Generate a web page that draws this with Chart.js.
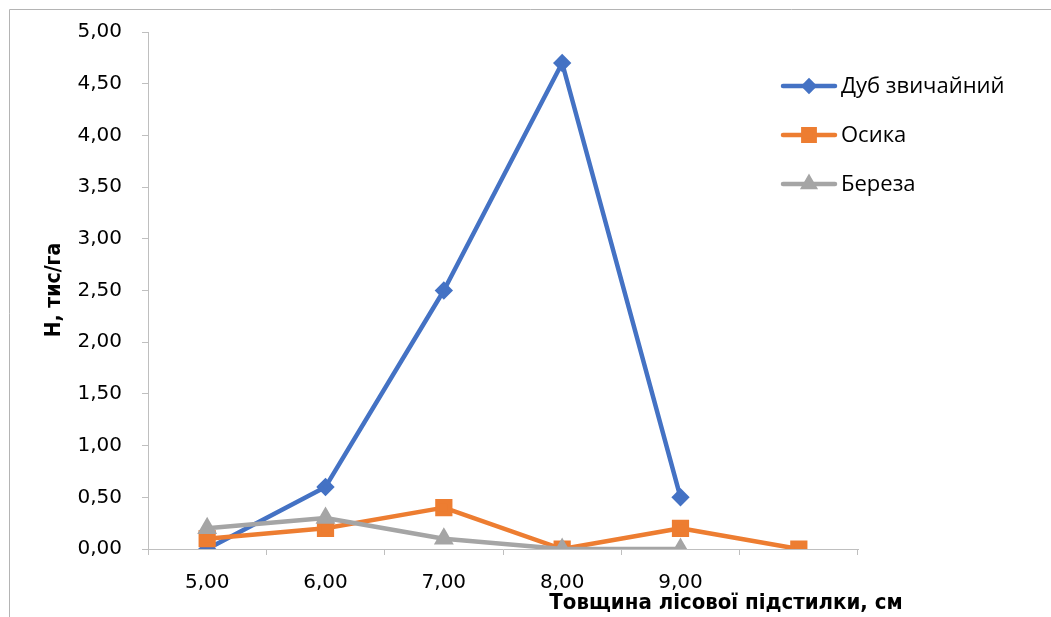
<!DOCTYPE html>
<html>
<head>
<meta charset="utf-8">
<script src="https://cdn.jsdelivr.net/npm/chart.js@4"></script>
<style>
  html, body { margin: 0; padding: 0; background: #fff; overflow: hidden; }
  #wrap { position: relative; width: 1051px; height: 617px; }
</style>
</head>
<body>
<div id="wrap"><canvas id="chartLitter" width="1051" height="617"></canvas></div>
<script>
// товщина підстилки (категорії) та густота підросту, тис/га
var categories = ['5,00', '6,00', '7,00', '8,00', '9,00', ''];
var dubValues = [0, 0.6, 2.5, 4.7, 0.5, null];
var osykaValues = [0.1, 0.2, 0.4, 0, 0.2, 0];
var berezaValues = [0.2, 0.3, 0.1, 0, 0, null];
var yTicks = [0, 0.5, 1, 1.5, 2, 2.5, 3, 3.5, 4, 4.5, 5];

var axisColor = '#bfbfbf';

function comma(v) {
    return Number(v).toFixed(2).replace('.', ',');
}

// рамка, підписи осей і легенда
var decor = {
    id: 'decor',
    beforeDraw: function(chart) {
        var ctx = chart.ctx;
        ctx.save();
        ctx.strokeStyle = '#b4b4b4';
        ctx.lineWidth = 1;
        ctx.beginPath();
        ctx.moveTo(9.5, 700);
        ctx.lineTo(9.5, 9.5);
        ctx.lineTo(1100, 9.5);
        ctx.stroke();
        ctx.restore();
    },
    afterDraw: function(chart) {
        var ctx = chart.ctx;
        ctx.save();
        ctx.fillStyle = '#000';
        ctx.textBaseline = 'middle';

        // назва осі Y
        ctx.font = 'bold 21px "DejaVu Sans Condensed", "DejaVu Sans"';
        ctx.textAlign = 'center';
        ctx.translate(55, 290);
        ctx.rotate(-Math.PI / 2);
        ctx.fillText('Н, тис/га', 0, 0);
        ctx.setTransform(1, 0, 0, 1, 0, 0);

        // назва осі X
        ctx.font = 'bold 22px "Liberation Sans Narrow", "DejaVu Sans Condensed", "DejaVu Sans"';
        ctx.fillText('Товщина лісової підстилки, см', 726, 603);

        // легенда
        var rows = [86, 135, 184];
        ctx.font = '22px "Open Sans"';
        ctx.textAlign = 'left';
        chart.data.datasets.forEach(function(ds, i) {
            var y = rows[i];
            ctx.strokeStyle = ds.borderColor;
            ctx.lineWidth = ds.borderWidth;
            ctx.lineCap = 'round';
            ctx.beginPath();
            ctx.moveTo(783, y);
            ctx.lineTo(835, y);
            ctx.stroke();
            ctx.fillStyle = ds.pointBackgroundColor;
            ctx.strokeStyle = ds.pointBorderColor;
            Chart.helpers.drawPoint(ctx, {
                pointStyle: ds.pointStyle,
                radius: ds.pointRadius - 1,
                rotation: 0,
                borderWidth: 1
            }, 809, y);
            ctx.fillStyle = '#000';
            ctx.fillText(ds.label, 841, y + 1);
        });
        ctx.restore();
    }
};

var chartLitter = new Chart(document.getElementById('chartLitter'), {
    type: 'line',
    data: {
        labels: categories,
        datasets: [{
            label: 'Дуб звичайний',
            data: dubValues,
            borderColor: '#4472C4',
            backgroundColor: '#4472C4',
            pointBackgroundColor: '#4472C4',
            pointBorderColor: '#4472C4',
            pointStyle: 'rectRot',
            pointRadius: 6,
            borderWidth: 4.5,
            order: 3,
            fill: false,
        },
        {
            label: 'Осика',
            data: osykaValues,
            borderColor: '#ED7D31',
            backgroundColor: '#ED7D31',
            pointBackgroundColor: '#ED7D31',
            pointBorderColor: '#ED7D31',
            pointStyle: 'rect',
            pointRadius: 9,
            borderWidth: 4.5,
            order: 2,
            fill: false,
        },
        {
            label: 'Береза',
            data: berezaValues,
            borderColor: '#A5A5A5',
            backgroundColor: '#A5A5A5',
            pointBackgroundColor: '#A5A5A5',
            pointBorderColor: '#A5A5A5',
            pointStyle: 'triangle',
            pointRadius: 7,
            borderWidth: 4.5,
            order: 1,
            fill: false,
        }]
    },
    options: {
        responsive: false,
        animation: false,
        devicePixelRatio: 1,
        layout: {
            padding: { left: 0, top: 28, right: 193, bottom: 0 }
        },
        plugins: {
            legend: { display: false },
            tooltip: { enabled: false },
            title: { display: false }
        },
        elements: {
            line: { tension: 0, borderJoinStyle: 'round' }
        },
        scales: {
            x: {
                offset: true,
                afterFit: function(scale) { scale.height = 68; },
                grid: {
                    offset: true,
                    drawOnChartArea: false,
                    drawTicks: true,
                    tickLength: 6,
                    color: axisColor
                },
                border: { color: axisColor, width: 1 },
                ticks: {
                    color: '#000',
                    padding: 16,
                    maxRotation: 0,
                    font: { family: '"DejaVu Sans"', size: 20 }
                }
            },
            y: {
                min: 0,
                max: 5,
                afterFit: function(scale) { scale.width = 148; },
                afterBuildTicks: function(scale) {
                    scale.ticks = yTicks.map(function(v) { return { value: v }; });
                },
                grid: {
                    drawOnChartArea: false,
                    drawTicks: true,
                    tickLength: 6,
                    color: axisColor
                },
                border: { color: axisColor, width: 1 },
                ticks: {
                    color: '#000',
                    padding: 20,
                    font: { family: '"DejaVu Sans"', size: 20 },
                    callback: function(v) { return comma(v); }
                }
            }
        }
    },
    plugins: [decor]
});
</script>
</body>
</html>
